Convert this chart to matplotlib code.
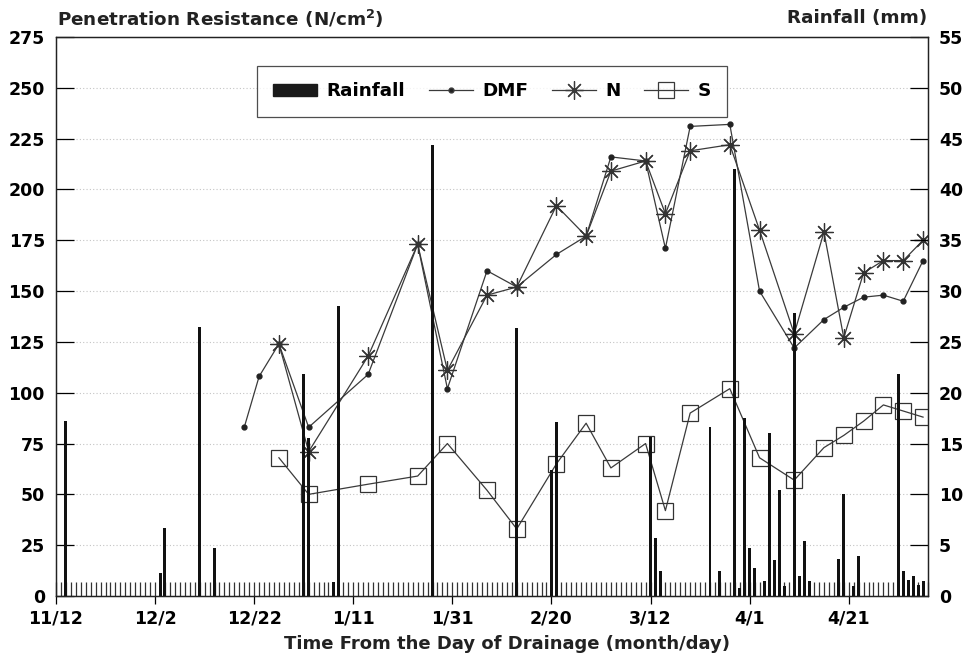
import matplotlib
matplotlib.use("Agg")
import matplotlib.pyplot as plt
from matplotlib.patches import Patch
from matplotlib.lines import Line2D

# days counted from 11/12 (day of drainage)
tick_days = [0, 20, 40, 60, 80, 100, 120, 140, 160]
tick_labels = ["11/12", "12/2", "12/22", "1/11", "1/31", "2/20", "3/12", "4/1", "4/21"]

# penetration resistance (N/cm2)
dmf_days = [38, 41, 45, 51, 63, 73, 79, 87, 93, 101, 107, 112, 119, 123, 128,
            136, 142, 149, 155, 159, 163, 167, 171, 175]
dmf = [83, 108, 124, 83, 109, 173, 102, 160, 152, 168, 177, 216, 214, 171, 231,
       232, 150, 122, 136, 142, 147, 148, 145, 165]

n_days = [45, 51, 63, 73, 79, 87, 93, 101, 107, 112, 119, 123, 128, 136, 142,
          149, 155, 159, 163, 167, 171, 175]
n_vals = [124, 71, 118, 173, 111, 148, 152, 192, 177, 209, 214, 188, 219, 222,
          180, 129, 179, 127, 159, 165, 165, 175]

s_days = [45, 51, 63, 73, 79, 87, 93, 101, 107, 112, 119, 123, 128, 136, 142,
          149, 155, 159, 163, 167, 171, 175]
s_vals = [68, 50, 55, 59, 75, 52, 33, 65, 85, 63, 75, 42, 90, 102, 68, 57, 73,
          79, 86, 94, 91, 88]

# rainfall (mm)
rain_days = [2, 21, 22, 29, 32, 50, 51, 56, 57, 76, 93, 100, 101, 120, 121, 122,
             132, 134, 137, 138, 139, 140, 141, 143, 144, 145, 146, 147, 149, 150,
             151, 152, 158, 159, 161, 162, 170, 171, 172, 173, 174, 175]
rain = [17.2, 2.3, 6.7, 26.5, 4.7, 21.8, 15.5, 1.4, 28.5, 44.4, 26.4, 12.4, 17.1,
        15.6, 5.7, 2.5, 16.6, 2.5, 42.0, 0.8, 17.5, 4.7, 2.8, 1.5, 16.0, 3.5, 10.4,
        1.0, 27.8, 2.0, 5.4, 1.5, 3.6, 10.0, 1.0, 3.9, 21.8, 2.5, 1.6, 2.0, 1.1, 1.5]

plt.rcParams["font.family"] = ["DejaVu Sans"]
plt.rcParams["font.weight"] = "bold"

fig = plt.figure(figsize=(9.7, 6.59), dpi=100)
ax = fig.add_axes([0.0577, 0.0956, 0.899, 0.8483])
ax2 = ax.twinx()

line_col = "#3a3a3a"
ax.plot(dmf_days, dmf, color=line_col, lw=0.9, marker="o", ms=3.5,
        mfc="#222222", mec="#222222", zorder=3)
ax.plot(n_days, n_vals, color=line_col, lw=0.9, marker=(8, 2, 0), ms=13,
        mec="#333333", mew=0.9, zorder=3)
ax.plot(s_days, s_vals, color=line_col, lw=0.9, marker="s", ms=11,
        mfc="none", mec="#333333", mew=0.9, zorder=3)

ax2.bar(rain_days, rain, width=0.6, color="#111111", zorder=2)

ax.set_xlim(0, 176)
ax.set_ylim(0, 275)
ax2.set_ylim(0, 55)
ax.set_yticks(range(0, 276, 25))
ax2.set_yticks(range(0, 56, 5))
ax.set_xticks(tick_days)
ax.set_xticklabels(tick_labels)
ax.set_xticks(range(0, 177), minor=True)
ax.xaxis.remove_overlapping_locs = False

for y in range(25, 275, 25):
    ax.axhline(y, color="#c4c4c4", lw=0.8, ls=(0, (1, 2)), zorder=0)

ax.tick_params(axis="y", direction="in", length=13, width=0.9, labelsize=12.5, pad=8)
ax2.tick_params(axis="y", direction="in", length=13, width=0.9, labelsize=12.5, pad=8)
ax.tick_params(axis="x", which="major", direction="out", length=6, width=0.9,
               labelsize=12.5, pad=4)
ax.tick_params(axis="x", which="minor", direction="in", length=10, width=0.9,
               color="#333333")
for sp in list(ax.spines.values()) + list(ax2.spines.values()):
    sp.set_linewidth(0.9)
    sp.set_color("#222222")

fig.text(0.059, 0.972, "Penetration Resistance (N/cm$^2$)", fontsize=13.2,
         ha="left", va="center", color="#222222")
fig.text(0.956, 0.972, "Rainfall (mm)", fontsize=13.2, ha="right", va="center",
         color="#222222")
ax.set_xlabel("Time From the Day of Drainage (month/day)", fontsize=13,
              fontweight="bold", color="#222222")
ax.xaxis.set_label_coords(0.517, -0.07)

handles = [
    Patch(facecolor="#1a1a1a", edgecolor="#1a1a1a"),
    Line2D([], [], color=line_col, lw=0.9, marker="o", ms=3.5, mfc="#222222"),
    Line2D([], [], color=line_col, lw=0.9, marker=(8, 2, 0), ms=13, mew=0.9),
    Line2D([], [], color=line_col, lw=0.9, marker="s", ms=11, mfc="none", mew=0.9),
]
leg = ax2.legend(handles, ["Rainfall", "DMF", "N", "S"], ncol=4, loc="center",
                 bbox_to_anchor=(0.5, 0.9025), fontsize=13.2, frameon=True,
                 fancybox=False, edgecolor="#222222", handlelength=2.4,
                 columnspacing=1.3, borderpad=0.9, handletextpad=0.5)
leg.get_frame().set_linewidth(0.9)

fig.savefig("out.png", dpi=100)
